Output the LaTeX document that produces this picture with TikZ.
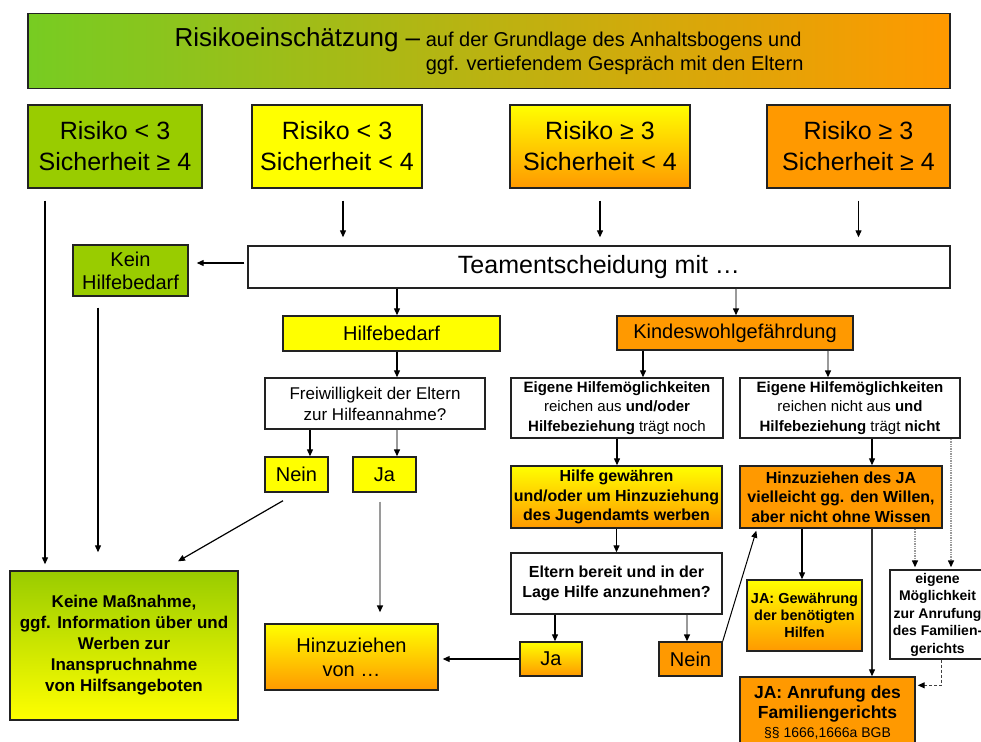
\documentclass[tikz,border=0pt]{standalone}
\usepackage{fontspec}
\setmainfont{Liberation Sans}
\usetikzlibrary{arrows.meta,calc}
\definecolor{cgreen}{HTML}{99CC00}
\definecolor{cyellow}{HTML}{FFFF00}
\definecolor{corange}{HTML}{FF9900}
\definecolor{tgreen}{HTML}{77CC22}
\definecolor{lgray}{HTML}{9A9A9A}
\definecolor{bord}{HTML}{222222}
\newcommand{\fsz}[2]{\fontsize{#1}{#2}\selectfont}
\begin{document}
\begin{tikzpicture}[x=1pt,y=-1pt,
  box/.style={draw=bord, line width=1.4pt, inner sep=0pt, align=center, text=black},
  tipk/.style={-{Triangle[length=7pt,width=6pt,color=black]}},
  arr/.style={draw=black, line width=1.2pt, tipk},
  garr/.style={draw=lgray, line width=1.4pt, tipk},
  dotarr/.style={draw=lgray, line width=1.4pt, densely dotted, tipk},
  dasharr/.style={draw=black!75, line width=1.1pt, densely dashed, tipk},
  yo/.style={top color=cyellow, bottom color=corange},
  big/.style={font=\fsz{25}{31}},
  mid/.style={font=\fsz{20}{24}},
]
\useasboundingbox (0,0) rectangle (981,741);
\fill[white] (0,0) rectangle (981,741);
\clip (0,0) rectangle (981,741);

% title
\node[box, minimum width=922pt, minimum height=75pt, left color=tgreen, right color=corange, align=left, font=\fsz{20}{24}] (title) at (489,51)
 {{\fsz{26}{24}Risikoeinschätzung –} auf der Grundlage des Anhaltsbogens und\\
  {\fsz{26}{24}\hphantom{Risikoeinschätzung –}} ggf. vertiefendem Gespräch mit den Eltern};

% risk boxes
\node[box, big, minimum width=174pt, minimum height=83pt, fill=cgreen] (r1) at (115,146.5) {Risiko < 3\\Sicherheit ≥ 4};
\node[box, big, minimum width=170pt, minimum height=83pt, fill=cyellow] (r2) at (337,146.5) {Risiko < 3\\Sicherheit < 4};
\node[box, big, minimum width=180pt, minimum height=83pt, yo] (r3) at (600,146.5) {Risiko ≥ 3\\Sicherheit < 4};
\node[box, big, minimum width=183pt, minimum height=83pt, fill=corange] (r4) at (858.5,146.5) {Risiko ≥ 3\\Sicherheit ≥ 4};

% team
\node[box, big, minimum width=702pt, minimum height=42pt, fill=white] (team) at (599,267) {Teamentscheidung mit …};
\node[box, font=\fsz{20}{23}, minimum width=115pt, minimum height=51pt, fill=cgreen] (kein) at (130.5,270.5) {Kein\\Hilfebedarf};

\node[box, mid, minimum width=217pt, minimum height=35pt, fill=cyellow] (hb) at (391.5,333.5) {Hilfebedarf};
\node[box, mid, minimum width=236pt, minimum height=34pt, fill=corange] (kwg) at (735,333) {Kindeswohlgefährdung};

% left branch
\node[box, font=\fsz{17}{21}, minimum width=220pt, minimum height=51pt, fill=white] (frei) at (375,403.5) {Freiwilligkeit der Eltern\\zur Hilfeannahme?};
\node[box, mid, minimum width=63pt, minimum height=35pt, fill=cyellow] (nein1) at (296.5,474.5) {Nein};
\node[box, mid, minimum width=63pt, minimum height=35pt, fill=cyellow] (ja1) at (384.5,474.5) {Ja};

\node[box, font=\bfseries\fsz{17}{21}, minimum width=228pt, minimum height=149pt, top color=cgreen, bottom color=cyellow] (keine) at (124,645.5)
 {Keine Maßnahme,\\ggf. Information über und\\Werben zur\\Inanspruchnahme\\von Hilfsangeboten};
\node[box, font=\fsz{20}{24}, minimum width=173pt, minimum height=66pt, yo] (hinz) at (351.5,657) {Hinzuziehen\\von …};

% right branch
\node[box, font=\fsz{15}{19.5}, minimum width=212pt, minimum height=60pt, fill=white] (eig1) at (617,408)
 {\textbf{Eigene Hilfemöglichkeiten}\\reichen aus \textbf{und/oder}\\\textbf{Hilfebeziehung} trägt noch};
\node[box, font=\fsz{15}{19.5}, minimum width=220pt, minimum height=60pt, fill=white] (eig2) at (850,408)
 {\textbf{Eigene Hilfemöglichkeiten}\\reichen nicht aus \textbf{und}\\\textbf{Hilfebeziehung} trägt \textbf{nicht}};
\node[box, font=\bfseries\fsz{16}{19.5}, minimum width=211pt, minimum height=62pt, yo] (hilfe) at (616.5,497)
 {Hilfe gewähren\\und/oder um Hinzuziehung\\des Jugendamts werben};
\node[box, font=\bfseries\fsz{16}{19.5}, minimum width=202pt, minimum height=62pt, fill=corange] (hja) at (841,497)
 {Hinzuziehen des JA\\vielleicht gg. den Willen,\\aber nicht ohne Wissen};
\node[box, font=\bfseries\fsz{16}{19.5}, minimum width=211pt, minimum height=61pt, fill=white] (eltern) at (616.5,583.5)
 {Eltern bereit und in der\\Lage Hilfe anzunehmen?};
\node[box, mid, minimum width=62pt, minimum height=34pt, yo] (ja2) at (551,659) {Ja};
\node[box, mid, minimum width=63pt, minimum height=34pt, fill=corange] (nein2) at (690.5,659) {Nein};
\node[box, font=\bfseries\fsz{14.5}{17}, minimum width=115pt, minimum height=71pt, yo] (gew) at (804.5,615.5)
 {JA: Gewährung\\der benötigten\\Hilfen};
\node[box, font=\bfseries\fsz{17.5}{19.5}, minimum width=175pt, minimum height=72pt, fill=corange] (anr) at (827.5,713)
 {JA: Anrufung des\\Familiengerichts\\\mdseries\fsz{14}{17}§§ 1666,1666a BGB};
\node[box, font=\bfseries\fsz{14}{17.5}, minimum width=95pt, minimum height=89pt, fill=white] (eigm) at (937.5,614.5)
 {eigene\\Möglichkeit\\zur Anrufung\\des Familien-\\gerichts};

% connectors
\draw[arr] ($(r1.south)+(-70,12)$) -- ($(keine.north)+(-79,-6)$);
\draw[arr] ($(r2.south)+(6,12)$) -- ($(r2.south |- team.north)+(6,-8)$);
\draw[arr] ($(r3.south)+(0,12)$) -- ($(r3.south |- team.north)+(0,-8)$);
\draw[arr] ($(r4.south)+(0,12)$) -- ($(r4.south |- team.north)+(0,-8)$);
\draw[arr] ($(team.west)+(-3,-4)$) -- ($(kein.east |- team.west)+(8,-4)$);
\draw[arr] ($(kein.south)+(-32.5,11)$) -- ($(keine.north)+(-26,-18)$);
\draw[arr] ($(hb.north |- team.south)+(5.5,0)$) -- ($(hb.north)+(5.5,0)$);
\draw[garr] ($(kwg.north |- team.south)+(1,0)$) -- ($(kwg.north)+(1,0)$);
\draw[arr] ($(frei.north |- hb.south)+(22,0)$) -- ($(frei.north)+(22,0)$);
\draw[arr] ($(nein1.north |- frei.south)+(13.5,0)$) -- ($(nein1.north)+(13.5,0)$);
\draw[garr] ($(ja1.north |- frei.south)+(12.5,0)$) -- ($(ja1.north)+(12.5,0)$);
\draw[arr] ($(nein1.south)+(-13.5,8)$) -- ($(keine.north)+(54,-9)$);
\draw[garr] ($(ja1.south)+(-4.5,9)$) -- ($(hinz.north)+(28.5,-11)$);
\draw[arr] (ja2.west) -- ($(hinz.east |- ja2.west)+(4,0)$);
\draw[arr] ($(eig1.north |- kwg.south)+(26,0)$) -- ($(eig1.north)+(26,0)$);
\draw[garr] ($(eig2.north |- kwg.south)+(-22,0)$) -- ($(eig2.north)+(-22,0)$);
\draw[arr] (eig1.south) -- (hilfe.north -| eig1.south);
\draw[arr] ($(hja.north |- eig2.south)+(31,0)$) -- ($(hja.north)+(31,0)$);
\draw[dotarr] ($(eigm.north |- eig2.south)+(13.5,0)$) -- ($(eigm.north)+(13.5,-2)$);
\draw[dotarr] ($(eigm.north |- hja.south)+(-22.5,0)$) -- ($(eigm.north)+(-22.5,-2)$);
\draw[arr] (hilfe.south) -- (eltern.north);
\draw[arr] ($(ja2.north |- eltern.south)+(4,0)$) -- ($(ja2.north)+(4,0)$);
\draw[garr] ($(nein2.north |- eltern.south)+(-3.5,0)$) -- ($(nein2.north)+(-3.5,0)$);
\draw[arr, line width=1pt] (nein2.north east) -- ($(hja.south west)+(17,2)$);
\draw[arr] ($(gew.north |- hja.south)+(-2.5,0)$) -- ($(gew.north)+(-2.5,0)$);
\draw[arr, draw=black!80] ($(anr.north |- hja.south)+(44.5,0)$) -- ($(anr.north)+(44.5,0)$);
\draw[dasharr] ($(eigm.south)+(4,0)$) |- ($(anr.north east)+(2,9)$);
\end{tikzpicture}
\end{document}
